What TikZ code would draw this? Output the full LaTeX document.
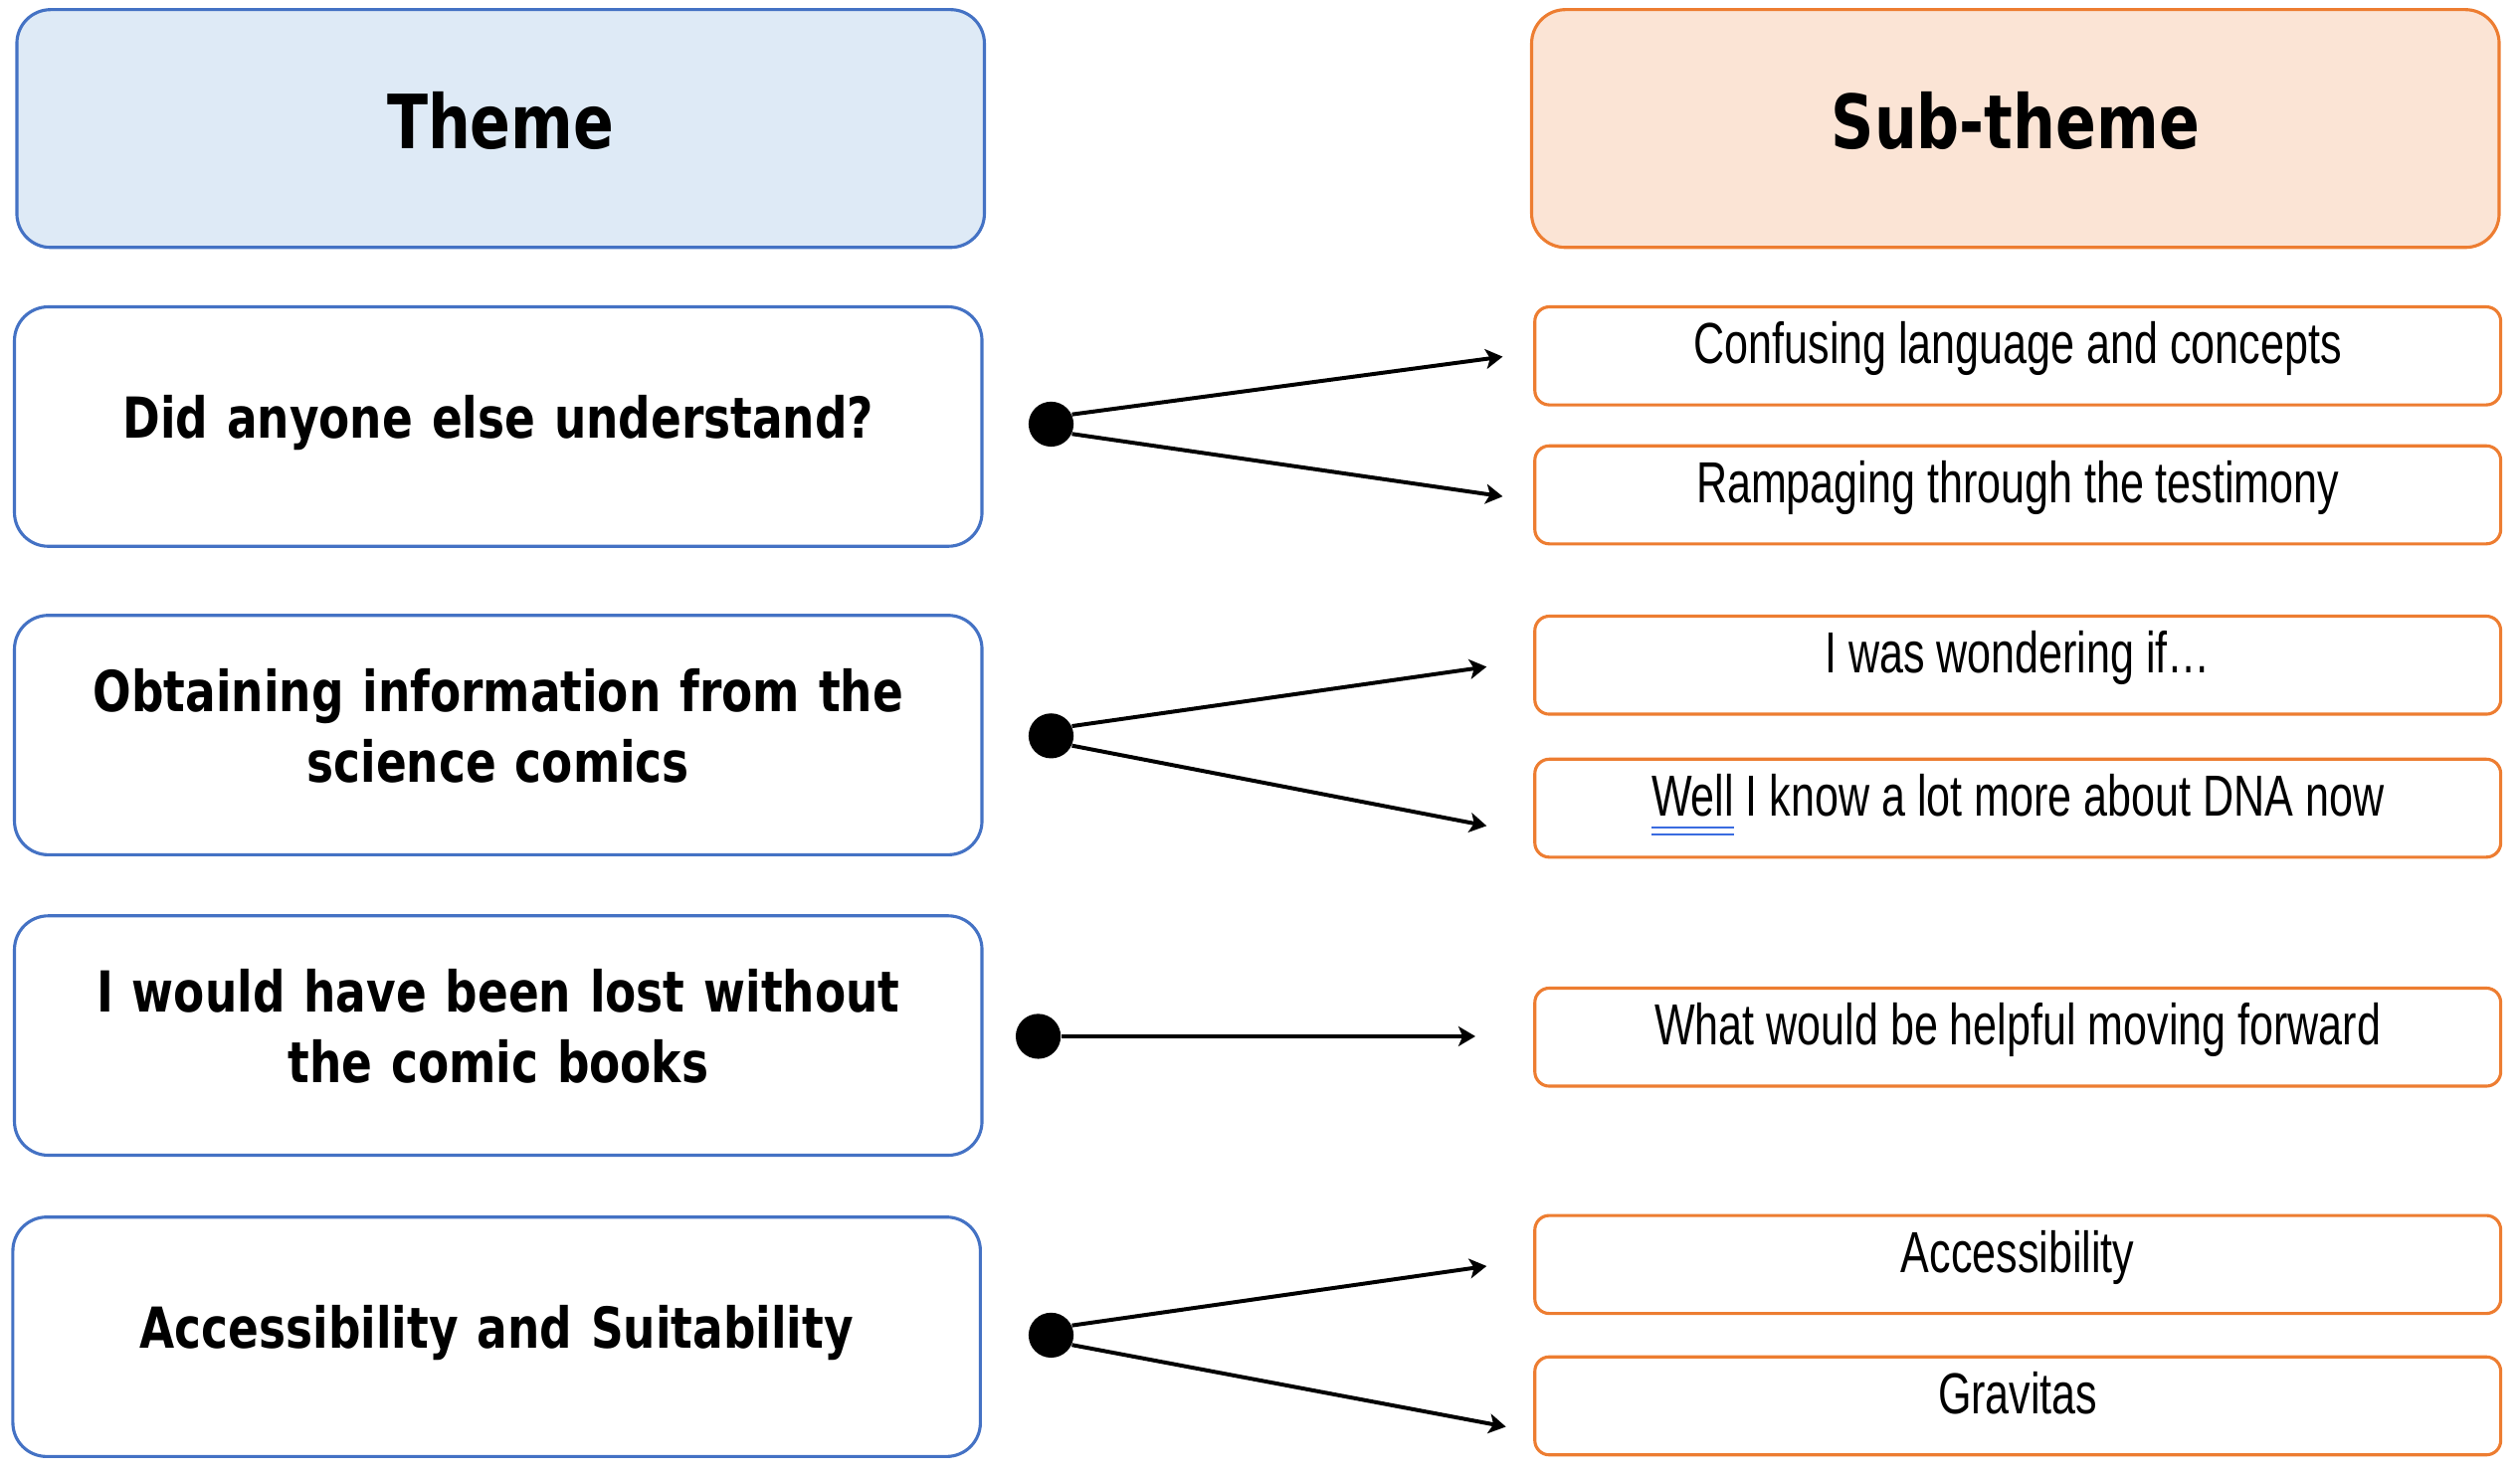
\documentclass[tikz,border=0pt]{standalone}
\usepackage{fontspec}
\usetikzlibrary{arrows.meta}

\newfontfamily\themefont{DejaVu Sans}[FakeStretch=0.8]
\newfontfamily\subfont{Liberation Sans}[FakeStretch=0.74]

\definecolor{themeblue}{HTML}{4472C4}
\definecolor{themefill}{HTML}{DEEAF6}
\definecolor{suborange}{HTML}{ED7D31}
\definecolor{subfill}{HTML}{FBE4D5}
\definecolor{checkblue}{HTML}{3A6BE0}

\newcommand{\checkword}[1]{\setbox0\hbox{#1}%
  \rlap{\color{checkblue}\rule[-4.5pt]{\wd0}{0.9pt}}%
  \rlap{\color{checkblue}\rule[-7pt]{\wd0}{0.9pt}}#1}

\tikzset{
  headbox/.style={rounded corners=0.42cm, line width=1.1pt, minimum width=12.04cm,
    minimum height=2.96cm, text height=20pt, text depth=5.8pt,
    font=\themefont\bfseries\fontsize{26.5}{32}\selectfont},
  themebox/.style={draw=themeblue, rounded corners=0.42cm, line width=1.1pt,
    minimum width=12.04cm, minimum height=2.98cm, inner xsep=0pt,
    text width=12.04cm, align=center, text height=15pt, text depth=#1,
    font=\themefont\bfseries\fontsize{20}{25}\selectfont},
  themebox/.default=6.8pt,
  subbox/.style={draw=suborange, rounded corners=0.18cm, line width=1.1pt,
    minimum width=12.02cm, minimum height=1.22cm, inner ysep=0pt,
    text height=15pt, text depth=9.4pt,
    font=\subfont\fontsize{20.5}{24}\selectfont},
  dot/.style={circle, fill=black, inner sep=0pt, minimum size=0.56cm},
  link/.style={line width=1.4pt, -{Stealth[length=6pt, width=7pt, inset=1.5pt]}}
}

\begin{document}
\begin{tikzpicture}

      \useasboundingbox (0,0) rectangle (31.36,18.36) ;

      \node [headbox, draw=themeblue, fill=themefill] (theme) at (6.23,16.76) {Theme} ;
      \node [headbox, draw=suborange, fill=subfill] (subtheme) at (25.08,16.76) {Sub-theme} ;

      \node [themebox] (t1) at (6.2,13.05) {Did anyone else understand?} ;
      \node [themebox=31.6pt] (t2) at (6.2,9.21) {Obtaining information from the\\science comics} ;
      \node [themebox=31.6pt] (t3) at (6.2,5.47) {I would have been lost without\\the comic books} ;
      \node [themebox] (t4) at (6.18,1.72) {Accessibility and Suitability} ;

      \node [subbox] (s1) at (25.11,13.93) {Confusing language and concepts} ;
      \node [subbox] (s2) at (25.11,12.2) {Rampaging through the testimony} ;
      \node [subbox] (s3) at (25.11,10.08) {I was wondering if…} ;
      \node [subbox] (s4) at (25.11,8.3) {\checkword{Well} I know a lot more about DNA now} ;
      \node [subbox] (s5) at (25.11,5.45) {What would be helpful moving forward} ;
      \node [subbox] (s6) at (25.11,2.62) {Accessibility} ;
      \node [subbox] (s7) at (25.11,0.86) {Gravitas} ;

      \node [dot] (d1) at (13.08,13.08) {} ;
      \node [dot] (d2) at (13.08,9.2) {} ;
      \node [dot] (d3) at (12.92,5.46) {} ;
      \node [dot] (d4) at (13.08,1.74) {} ;

      \coordinate (e1) at (18.7,13.92) ;
      \coordinate (e2) at (18.7,12.18) ;
      \coordinate (e3) at (18.5,10.06) ;
      \coordinate (e4) at (18.5,8.08) ;
      \coordinate (e5) at (18.36,5.46) ;
      \coordinate (e6) at (18.5,2.6) ;
      \coordinate (e7) at (18.74,0.6) ;

      \draw [link] (d1.25) -- (e1) ;
      \draw [link] (d1.-25) -- (e2) ;
      \draw [link] (d2.25) -- (e3) ;
      \draw [link] (d2.-25) -- (e4) ;
      \draw [link] (d3.east) -- (e5) ;
      \draw [link] (d4.25) -- (e6) ;
      \draw [link] (d4.-25) -- (e7) ;

    \end{tikzpicture}
\end{document}
